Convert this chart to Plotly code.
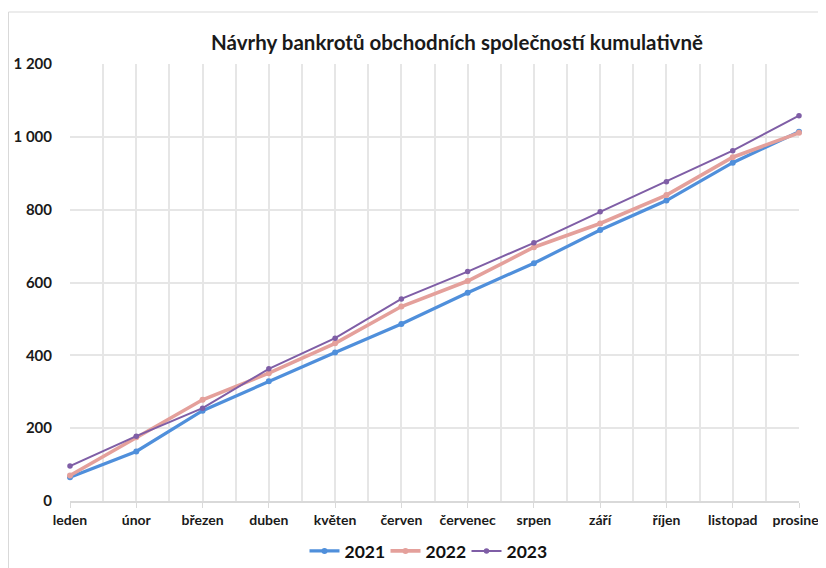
import plotly.graph_objects as go

months = ["leden", "únor", "březen", "duben", "květen", "červen", "červenec",
          "srpen", "září", "říjen", "listopad", "prosinec"]
y2021 = [65, 136, 248, 329, 408, 486, 572, 653, 744, 825, 929, 1014]
y2022 = [70, 175, 278, 351, 433, 534, 604, 697, 762, 840, 944, 1011]
y2023 = [96, 178, 255, 363, 447, 555, 630, 709, 794, 877, 962, 1058]
yticks = [0, 200, 400, 600, 800, 1000, 1200]

series = [("2021", y2021, "#4F8FDB", 3.2, 6),
          ("2022", y2022, "#E4A09B", 3.6, 6),
          ("2023", y2023, "#7F5EA6", 2.0, 5.5)]

xi = list(range(len(months)))
fig = go.Figure()
for name, vals, col, w, ms in series:
    fig.add_trace(go.Scatter(x=xi, y=vals, name="<b>%s</b>" % name, mode="lines+markers",
                             line=dict(color=col, width=w),
                             marker=dict(color=col, size=ms),
                             cliponaxis=False))

# page offset of the figure div (default body margin)
OFF = 8
W, H = 826 - OFF, 568 - OFF
L, T = 70 - OFF, 64 - OFF
R = W - (799 - OFF)
B = H - (501 - OFF)
pw, ph = W - L - R, H - T - B

fig.update_layout(
    width=W, height=H,
    margin=dict(l=L, r=R, t=T, b=B, autoexpand=False),
    paper_bgcolor="white", plot_bgcolor="white",
    font=dict(family="Lato", size=13, color="#1a1a1a"),
    title=dict(text="<b>Návrhy bankrotů obchodních společností kumulativně</b>",
               x=(457 - OFF) / W, xref="container", xanchor="center",
               y=1 - (43 - OFF) / H, yref="container", yanchor="middle",
               font=dict(family="Lato", size=20.5, color="#1a1a1a")),
    showlegend=True,
    legend=dict(orientation="h", x=(426 - OFF) / W, xref="container", xanchor="center",
                y=1 - (551 - OFF) / H, yref="container", yanchor="middle",
                font=dict(family="Lato", size=17.5, color="#111"),
                itemwidth=30, entrywidth=36, entrywidthmode="pixels",
                tracegroupgap=0, bgcolor="rgba(0,0,0,0)"),
    xaxis=dict(range=[0, len(months) - 1], tickmode="array", tickvals=xi,
               ticktext=["<b>%s</b>" % m for m in months], automargin=False,
               showgrid=True, gridcolor="#E6E6E6", gridwidth=1.5,
               minor=dict(dtick=0.5, tick0=0, showgrid=True, gridcolor="#E6E6E6",
                          gridwidth=1.5),
               ticks="outside", ticklen=5, tickcolor="#D9D9D9",
               showline=True, linecolor="#D9D9D9", linewidth=1.5,
               zeroline=False, tickfont=dict(size=14)),
    yaxis=dict(range=[0, 1200], tickmode="array", tickvals=yticks,
               ticktext=["<b>%s</b>" % ("{:,}".format(v).replace(",", " ")) for v in yticks],
               automargin=False,
               showgrid=True, gridcolor="#E6E6E6", gridwidth=1.5,
               zeroline=False, showline=False, ticks="",
               ticklabelstandoff=17, tickfont=dict(size=15)),
    shapes=[dict(type="rect", xref="paper", yref="paper",
                 x0=(0.5 - L) / pw, x1=(W + 10 - L) / pw,
                 y0=(T + ph - H - 10) / ph, y1=(T + ph - (12 - OFF)) / ph,
                 line=dict(color="#D9D9D9", width=1), fillcolor="rgba(0,0,0,0)",
                 layer="below")],
)

fig.write_html("out.html")
